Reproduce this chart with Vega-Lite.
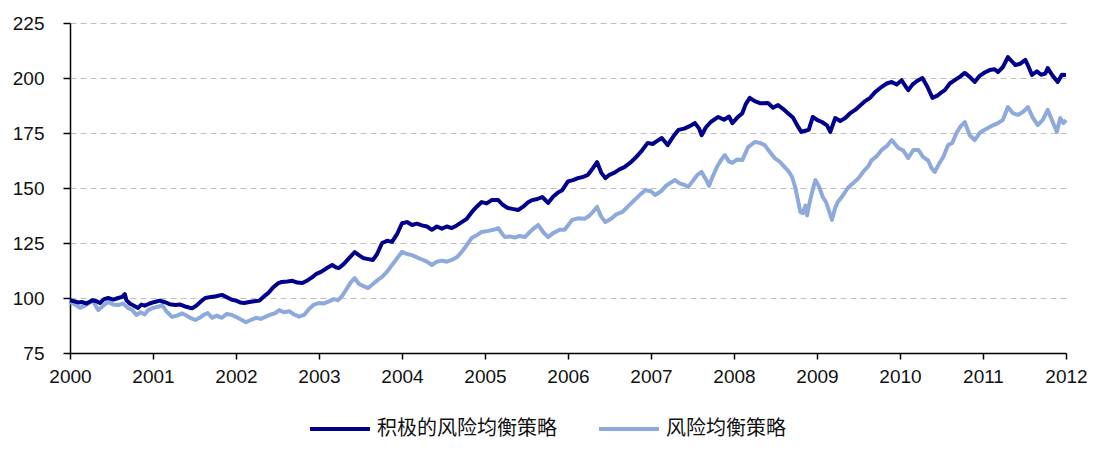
{
  "$schema": "https://vega.github.io/schema/vega-lite/v6.json",
  "autosize": {"type": "none"},
  "width": 996,
  "height": 330,
  "padding": {"left": 70, "top": 23, "right": 32, "bottom": 97},
  "background": "white",
  "config": {
    "view": {"stroke": null},
    "font": "Liberation Sans"
  },
  "datasets": {
    "a": [
[2000.00,99],[2000.05,98.5],[2000.10,98],[2000.14,98.2],[2000.20,97.5],[2000.27,99],[2000.32,98.5],[2000.36,97.7],[2000.41,99.5],[2000.46,100],[2000.52,99.3],[2000.58,100],[2000.63,100.5],[2000.66,101.8],[2000.68,99],[2000.72,97.5],[2000.77,96.5],[2000.82,95.5],[2000.86,97],[2000.90,96.5],[2000.96,97.5],
[2001.02,98.2],[2001.08,98.8],[2001.14,98.2],[2001.20,97.2],[2001.27,96.8],[2001.33,97],[2001.40,96],[2001.47,95.3],[2001.52,96.5],[2001.58,98.5],[2001.63,100],[2001.70,100.5],[2001.76,100.8],[2001.83,101.4],[2001.88,100.5],[2001.95,99.2],
[2002.00,98.8],[2002.05,98],[2002.10,97.7],[2002.16,98.2],[2002.22,98.5],[2002.28,98.8],[2002.33,100.5],[2002.39,102.3],[2002.44,104.5],[2002.50,106.5],[2002.55,107.3],[2002.62,107.5],[2002.68,107.8],[2002.74,107],[2002.80,106.8],[2002.86,108],[2002.92,109.5],[2002.97,111],
[2003.03,112],[2003.09,113.5],[2003.16,115],[2003.20,114],[2003.24,113.6],[2003.30,115.5],[2003.36,118],[2003.43,120.9],[2003.48,119.5],[2003.53,118.2],[2003.58,117.8],[2003.65,117.3],[2003.70,120],[2003.76,125],[2003.82,126],[2003.88,125.5],[2003.94,129],
[2004.00,134],[2004.06,134.5],[2004.12,133.2],[2004.18,133.8],[2004.24,133],[2004.30,132.5],[2004.36,131],[2004.42,132.5],[2004.48,131.5],[2004.54,132.5],[2004.60,131.8],[2004.66,133],[2004.72,134.5],[2004.78,136],[2004.84,139],[2004.90,141.5],[2004.96,143.6],
[2005.02,143],[2005.08,144.5],[2005.16,144.5],[2005.21,142.5],[2005.27,141],[2005.33,140.5],[2005.40,140],[2005.46,141.5],[2005.52,143.5],[2005.57,144.5],[2005.63,145],[2005.69,145.9],[2005.76,143.2],[2005.82,146],[2005.88,148],[2005.93,149],
[2006.00,153],[2006.06,153.6],[2006.12,154.5],[2006.18,155],[2006.24,156],[2006.30,159],[2006.35,161.8],[2006.40,157],[2006.45,154.5],[2006.50,156],[2006.56,157],[2006.62,158.5],[2006.68,159.5],[2006.75,161.5],[2006.81,163.6],[2006.88,166.5],[2006.96,170.5],
[2007.02,170],[2007.08,171.5],[2007.13,172.7],[2007.20,169.5],[2007.27,173.5],[2007.33,176.4],[2007.40,177],[2007.46,178],[2007.53,179.5],[2007.58,177],[2007.61,174],[2007.66,177.5],[2007.72,180],[2007.81,182.3],[2007.88,181],[2007.94,182.5],[2007.98,179.5],
[2008.04,182],[2008.10,184],[2008.14,188],[2008.19,191],[2008.25,189.5],[2008.32,188.5],[2008.41,188.6],[2008.47,186.5],[2008.53,187.7],[2008.59,186],[2008.65,184],[2008.71,182],[2008.77,178],[2008.81,175.5],[2008.86,176],[2008.90,176.4],[2008.95,182.3],
[2009.00,181],[2009.06,180],[2009.12,178.5],[2009.16,175.5],[2009.22,181.8],[2009.28,180.5],[2009.34,181.8],[2009.40,184],[2009.46,185.5],[2009.52,187.5],[2009.58,189.5],[2009.64,191],[2009.70,193.6],[2009.78,196],[2009.84,197.5],[2009.90,198.2],[2009.96,197],
[2010.02,199],[2010.07,196],[2010.10,194.5],[2010.15,197],[2010.20,198.5],[2010.27,200],[2010.33,196],[2010.39,191],[2010.45,192],[2010.50,193.5],[2010.54,194.5],[2010.60,197.5],[2010.66,199],[2010.72,200.5],[2010.78,202.3],[2010.84,200.5],[2010.90,198.2],[2010.96,201],
[2011.02,202.5],[2011.08,203.6],[2011.14,204],[2011.18,202.7],[2011.24,205],[2011.30,209.5],[2011.35,207.5],[2011.39,205.9],[2011.45,206.5],[2011.51,208.2],[2011.55,205],[2011.59,201.4],[2011.65,203],[2011.70,201.5],[2011.75,202],[2011.78,204.5],[2011.84,201],[2011.90,198.2],[2011.95,201.5],[2012.00,201.4]
    ],
    "b": [
[2000.00,98.2],[2000.06,97],[2000.12,95.5],[2000.18,96.5],[2000.24,98],[2000.27,99],[2000.31,96.5],[2000.34,94.5],[2000.40,96.5],[2000.46,98.2],[2000.52,97],[2000.58,96.8],[2000.64,97.5],[2000.70,95.5],[2000.75,94.5],[2000.80,92.3],[2000.85,93.5],[2000.90,92.5],[2000.94,94.5],
[2001.00,95.5],[2001.06,96],[2001.11,96.8],[2001.16,94],[2001.23,91.4],[2001.29,92],[2001.35,93],[2001.39,92.3],[2001.45,91],[2001.51,90],[2001.56,91],[2001.62,92.5],[2001.66,93.2],[2001.71,91],[2001.77,92],[2001.83,91],[2001.89,92.8],[2001.95,92.3],
[2002.02,91],[2002.07,90],[2002.12,89],[2002.18,90],[2002.24,91],[2002.30,90.5],[2002.36,91.5],[2002.42,92.5],[2002.47,93],[2002.52,94.5],[2002.58,93.5],[2002.64,94],[2002.70,92.5],[2002.76,91.5],[2002.82,92.3],[2002.88,95],[2002.94,97],
[2003.00,97.7],[2003.06,97.5],[2003.12,98.5],[2003.18,99.5],[2003.23,99],[2003.28,101],[2003.33,104],[2003.38,107],[2003.43,109],[2003.48,106.5],[2003.53,105.5],[2003.59,104.5],[2003.64,106],[2003.70,108],[2003.76,109.6],[2003.82,112],[2003.88,115],[2003.94,118],
[2004.00,121],[2004.06,120],[2004.12,119.5],[2004.18,118.5],[2004.24,117.5],[2004.30,116.5],[2004.36,115],[2004.42,116.5],[2004.48,117],[2004.54,116.5],[2004.60,117.3],[2004.66,118.5],[2004.72,121],[2004.78,124],[2004.84,127.3],[2004.90,128.5],[2004.96,130],
[2005.04,130.5],[2005.10,131],[2005.16,131.8],[2005.21,129],[2005.24,127.7],[2005.30,128],[2005.36,127.5],[2005.42,128.2],[2005.48,127.7],[2005.54,130],[2005.60,132],[2005.64,133.2],[2005.70,130],[2005.76,127.7],[2005.82,129.5],[2005.90,131],[2005.96,131],
[2006.05,135.5],[2006.12,136.2],[2006.20,136],[2006.26,137.5],[2006.32,140],[2006.35,141.4],[2006.40,137],[2006.45,134.5],[2006.52,136],[2006.58,138],[2006.65,139],[2006.72,141.5],[2006.80,144.5],[2006.87,147],[2006.93,149],
[2007.00,148.5],[2007.05,146.8],[2007.12,148.5],[2007.18,151],[2007.24,152.5],[2007.29,153.6],[2007.35,152],[2007.40,151.5],[2007.45,150.5],[2007.50,153],[2007.56,156],[2007.61,157.3],[2007.66,154],[2007.70,151],[2007.74,155],[2007.80,160],[2007.85,163],[2007.89,165],[2007.94,162],[2007.98,161.4],
[2008.04,163],[2008.10,162.7],[2008.17,168.6],[2008.25,170.9],[2008.31,170.5],[2008.37,169.5],[2008.43,166.5],[2008.49,163.6],[2008.55,162],[2008.61,159.5],[2008.66,157.5],[2008.70,155],[2008.74,150],[2008.77,144.5],[2008.80,139],[2008.83,138.6],[2008.86,142],[2008.88,137.5],[2008.90,141.4],[2008.94,148],[2008.98,153.6],
[2009.02,151],[2009.07,145.9],[2009.11,143.5],[2009.15,139],[2009.18,135.5],[2009.22,141],[2009.25,143.6],[2009.30,146],[2009.37,150],[2009.43,152],[2009.50,154.5],[2009.56,157.5],[2009.62,160],[2009.66,162.7],[2009.72,164.5],[2009.78,167.3],[2009.84,169],[2009.90,171.8],[2009.94,170],[2009.98,168.2],
[2010.04,167],[2010.10,163.6],[2010.16,167.3],[2010.22,167.3],[2010.28,164],[2010.34,162.5],[2010.38,159],[2010.42,157.3],[2010.47,161],[2010.52,164],[2010.58,169.5],[2010.63,170.5],[2010.68,175],[2010.73,178],[2010.78,180],[2010.84,174],[2010.90,171.8],[2010.96,175],
[2011.02,176.5],[2011.06,177.3],[2011.12,178.5],[2011.18,179.5],[2011.24,181],[2011.30,186.8],[2011.36,184],[2011.42,183.2],[2011.48,184.5],[2011.54,186.8],[2011.60,182],[2011.66,178.6],[2011.72,181],[2011.78,185.5],[2011.84,180],[2011.89,175.5],[2011.93,181.8],[2011.97,179.5],[2012.00,180.9]
    ]
  },
  "layer": [
    {
      "data": {"name": "b"},
      "mark": {"type": "line", "strokeWidth": 4, "color": "#8EA9DB", "strokeJoin": "round"},
      "encoding": {
        "x": {"field": "0", "type": "quantitative"},
        "y": {"field": "1", "type": "quantitative"},
        "color": {"datum": "风险均衡策略", "type": "nominal"}
      }
    },
    {
      "data": {"name": "a"},
      "mark": {"type": "line", "strokeWidth": 4, "strokeJoin": "round"},
      "encoding": {
        "x": {
          "field": "0", "type": "quantitative",
          "scale": {"domain": [2000, 2012], "nice": false, "zero": false},
          "axis": {
            "title": null, "values": [2000,2001,2002,2003,2004,2005,2006,2007,2008,2009,2010,2011,2012],
            "format": "d", "grid": false, "domainColor": "#000", "domainWidth": 1.5,
            "tickColor": "#000", "tickSize": 6, "tickWidth": 1.5, "labelFontSize": 19,
            "labelColor": "#111", "labelPadding": 8, "labelFlush": false, "labelOverlap": false
          }
        },
        "y": {
          "field": "1", "type": "quantitative",
          "scale": {"domain": [75, 225], "nice": false, "zero": false},
          "axis": {
            "title": null, "values": [75,100,125,150,175,200,225],
            "grid": true, "gridColor": "#bfbfbf", "gridDash": [6, 4], "gridWidth": 1,
            "domainColor": "#000", "domainWidth": 1.5, "tickColor": "#000", "tickSize": 7, "tickWidth": 1.5,
            "labelFontSize": 19, "labelColor": "#111", "labelPadding": 19, "labelOverlap": false
          }
        },
        "color": {
          "datum": "积极的风险均衡策略", "type": "nominal",
          "scale": {"domain": ["积极的风险均衡策略", "风险均衡策略"], "range": ["#00008C", "#8EA9DB"]},
          "legend": {
            "title": null, "orient": "none", "legendX": 238, "legendY": 374, "direction": "horizontal",
            "symbolType": "stroke", "symbolSize": 3600, "symbolStrokeWidth": 4,
            "labelFont": "Noto Sans CJK SC", "labelFontSize": 20, "labelColor": "#111",
            "labelOffset": 5, "columnPadding": 34, "labelLimit": 400
          }
        }
      }
    }
  ]
}
